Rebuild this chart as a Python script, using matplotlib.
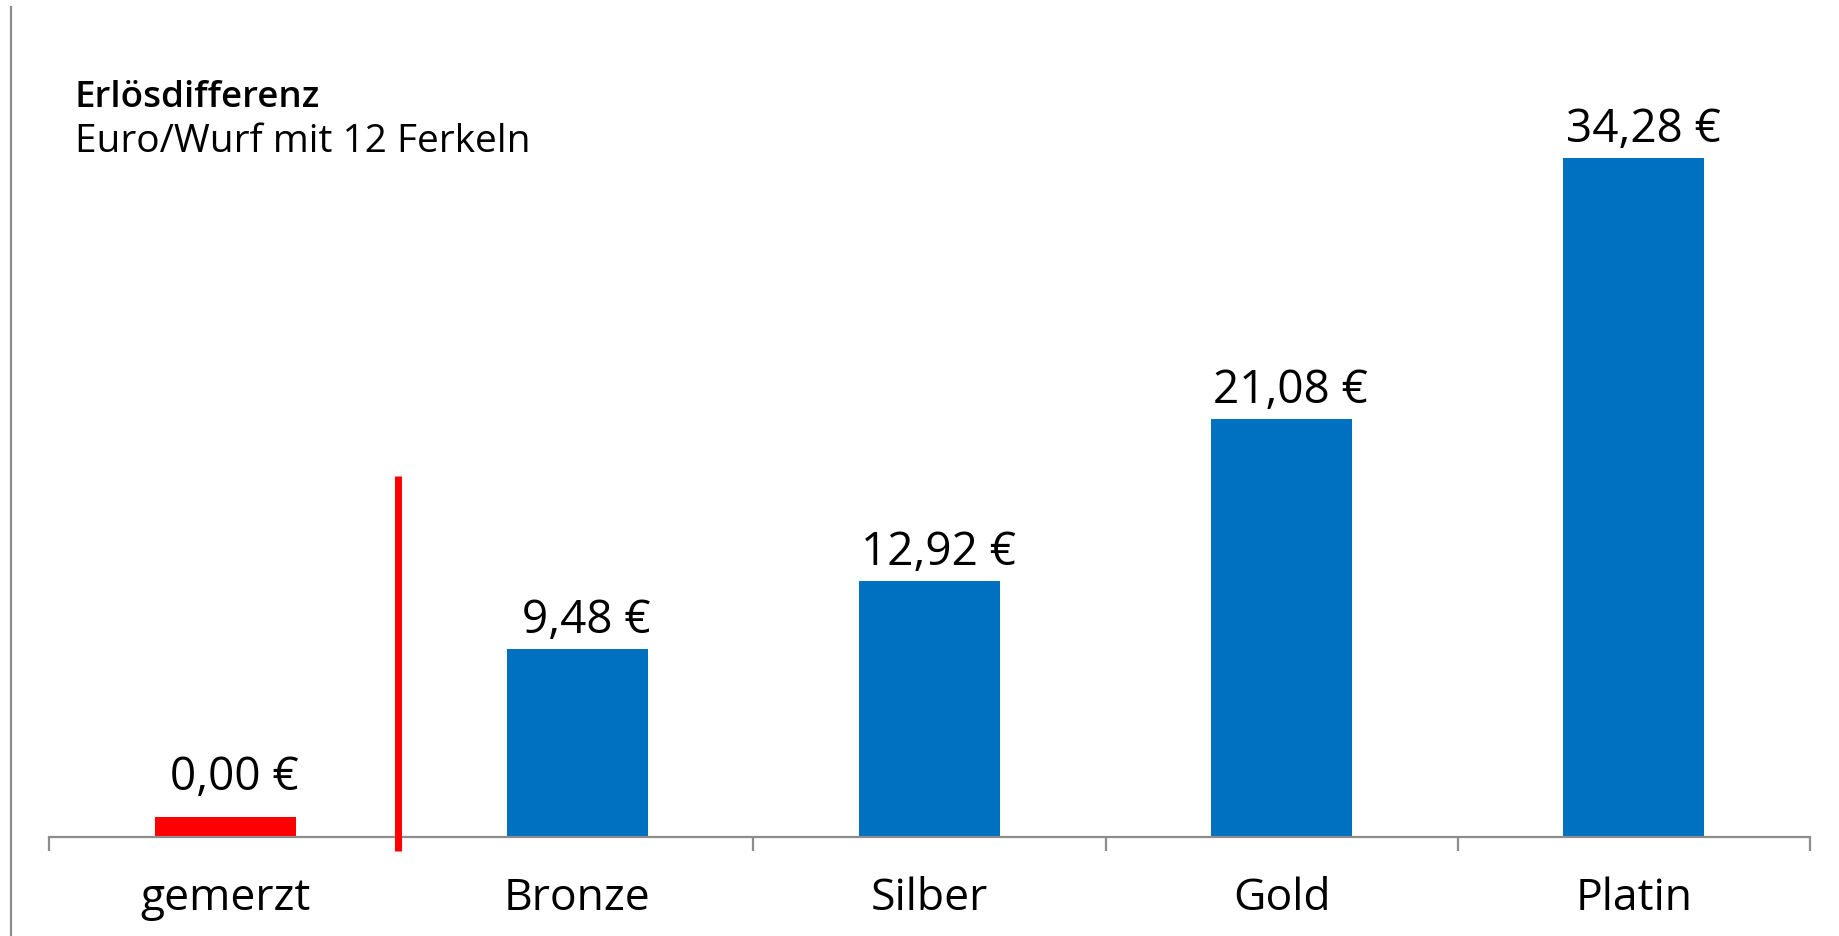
import matplotlib
matplotlib.use("Agg")
import matplotlib.pyplot as plt
from matplotlib.lines import Line2D

# data
categories = ["gemerzt", "Bronze", "Silber", "Gold", "Platin"]
values = [0.00, 9.48, 12.92, 21.08, 34.28]
# the "gemerzt" bar is shown as a small stub although its value is 0
stub_height = 1.0

title = "Erlösdifferenz"
subtitle = "Euro/Wurf mit 12 Ferkeln"

blue = "#0070C0"
red = "#FF0000"
gray = "#8C8C8C"

plt.rcParams["font.family"] = ["Open Sans", "DejaVu Sans"]

W, H = 1840, 937
fig = plt.figure(figsize=(W / 100, H / 100), dpi=100)

# axes placed in pixels: x axis from 49 to 1810, baseline at y=838
ax_left, ax_right, ax_base, ax_top = 49, 1810, 838, 8
ax = fig.add_axes([ax_left / W, (H - ax_base) / H,
                   (ax_right - ax_left) / W, (ax_base - ax_top) / H])
px_per_unit = 19.81
ax.set_ylim(0, (ax_base - ax_top) / px_per_unit)
ax.set_xlim(-0.5, len(categories) - 0.5)

x = list(range(len(categories)))
heights = [v if v > 0 else stub_height for v in values]
colors = [red] + [blue] * (len(categories) - 1)
ax.bar(x, heights, width=0.4, color=colors, zorder=2)

# value labels
for i, (h, v) in enumerate(zip(heights, values)):
    label = f"{v:.2f}".replace(".", ",") + " €"
    pad = 28 if v == 0 else 17
    ax.annotate(label, xy=(i, h), xytext=(9, pad), textcoords="offset pixels",
                ha="center", va="baseline", fontsize=33, color="black")

# separator line between gemerzt and the rest
ax.plot([0.49, 0.49], [-0.71, 18.22], color=red, lw=5, clip_on=False,
        solid_capstyle="butt", zorder=3)

# axes styling
for s in ["top", "right", "left"]:
    ax.spines[s].set_visible(False)
ax.spines["bottom"].set_color(gray)
ax.spines["bottom"].set_linewidth(1.6)
ax.set_yticks([])
ax.set_xticks(x)
ax.set_xticklabels(categories, fontsize=32, va="baseline")
ax.tick_params(axis="x", which="major", length=0, pad=51.8)
ax.set_xticks([i - 0.5 for i in range(len(categories) + 1)], minor=True)
ax.tick_params(axis="x", which="minor", length=10, width=1.6, color=gray,
               direction="out")

# thin frame line on the left of the chart area
fig.add_artist(Line2D([11 / W, 11 / W], [0, 1 - 8 / H], color=gray, lw=1.6))

fig.text(75 / W, 1 - 107 / H, title, fontsize=26.5, fontweight="semibold",
         va="baseline", ha="left")
fig.text(75 / W, 1 - 152 / H, subtitle, fontsize=28, va="baseline", ha="left")

fig.savefig("out.png", dpi=100)
